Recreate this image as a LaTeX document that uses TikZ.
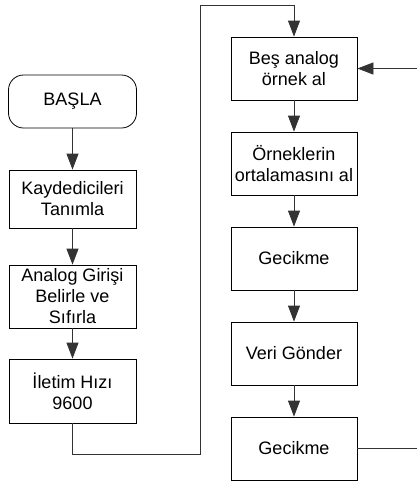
\documentclass[tikz,border=0pt]{standalone}
\usepackage{fontspec}
\setmainfont{Liberation Sans}
\usetikzlibrary{arrows.meta}
\begin{document}
\begin{tikzpicture}[x=1pt,y=-1pt,
  box/.style={draw=black, line width=0.8pt, minimum width=127pt, minimum height=63pt, inner sep=0pt, align=center,
    font=\fontsize{18}{21}\selectfont},
  conn/.style={draw=black!80, line width=0.8pt},
  arr/.style={conn, -{Triangle[length=16pt,width=12pt]}}]
\useasboundingbox (0,0) rectangle (417,483);
\node[box, rounded corners=15pt, minimum width=128pt, minimum height=53pt] (start) at (72.5,101.5) {BAŞLA};
\node[box, minimum height=58pt] (k) at (72.5,199) {Kaydedicileri\\Tanımla};
\node[box] (a) at (72.5,296.5) {Analog Girişi\\Belirle ve\\Sıfırla};
\node[box, minimum height=64pt] (i) at (72.5,391) {İletim Hızı\\9600};
\node[box, minimum width=126pt] (b) at (294,68.5) {Beş analog\\örnek al};
\node[box, minimum width=126pt] (o) at (294,163.5) {Örneklerin\\ortalamasını al};
\node[box, minimum width=126pt] (g1) at (294,258.5) {Gecikme};
\node[box, minimum width=126pt] (v) at (294,353.5) {Veri Gönder};
\node[box, minimum width=126pt] (g2) at (294,448.5) {Gecikme};
\coordinate (c1) at (200,454);
\coordinate (c2) at (200,5);
\coordinate (r1) at (417,448.5);
\coordinate (r2) at (417,68.5);
\draw[arr] (start) -- (k);
\draw[arr] (k) -- (a);
\draw[arr] (a) -- (i);
\draw[arr] (i.south) |- (c1) -- (c2) -| (b.north);
\draw[arr] (b) -- (o);
\draw[arr] (o) -- (g1);
\draw[arr] (g1) -- (v);
\draw[arr] (v) -- (g2);
\draw[conn] (g2.east) -- (r1);
\draw[arr] (r2) -- (b.east);
\end{tikzpicture}
\end{document}
